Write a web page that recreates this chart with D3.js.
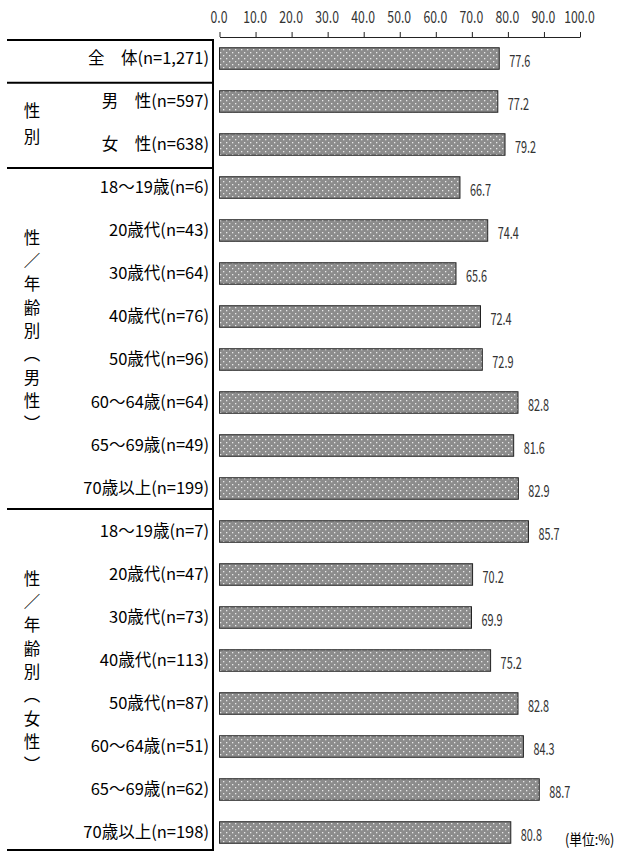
<!DOCTYPE html>
<html>
<head>
<meta charset="utf-8">
<script src="https://cdn.jsdelivr.net/npm/d3@7"></script>
<style>
  body { margin: 0; background: #fff; }
  text { font-family: "Noto Sans CJK JP", sans-serif; fill: #000; }
</style>
</head>
<body>
<script>
var labels = ["全\u3000体(n=1,271)", "男\u3000性(n=597)", "女\u3000性(n=638)",
  "18～19歳(n=6)", "20歳代(n=43)", "30歳代(n=64)", "40歳代(n=76)", "50歳代(n=96)",
  "60～64歳(n=64)", "65～69歳(n=49)", "70歳以上(n=199)",
  "18～19歳(n=7)", "20歳代(n=47)", "30歳代(n=73)", "40歳代(n=113)", "50歳代(n=87)",
  "60～64歳(n=51)", "65～69歳(n=62)", "70歳以上(n=198)"]
var values = [77.6, 77.2, 79.2, 66.7, 74.4, 65.6, 72.4, 72.9, 82.8, 81.6, 82.9,
  85.7, 70.2, 69.9, 75.2, 82.8, 84.3, 88.7, 80.8]
var ticks = [0, 10, 20, 30, 40, 50, 60, 70, 80, 90, 100]
// groups: first row, last row (exclusive), vertical label chars
var groups = [
  {from: 1, to: 3, chars: ["性", "別"]},
  {from: 3, to: 11, chars: ["性", "／", "年", "齢", "別", "︵", "男", "性", "︶"]},
  {from: 11, to: 19, chars: ["性", "／", "年", "齢", "別", "︵", "女", "性", "︶"]}
]
var dividers = [0, 1, 3, 11, 19]

var width = 629, height = 852

var svg = d3.select("body").append("svg")
    .attr("width", width)
    .attr("height", height)

var pat = svg.append("defs").append("pattern")
    .attr("id", "dots")
    .attr("patternUnits", "userSpaceOnUse")
    .attr("width", 6).attr("height", 6)
pat.append("rect").attr("width", 6).attr("height", 6).attr("fill", "#8c8c8c")
pat.append("rect").attr("x", 1).attr("y", 1).attr("width", 1.3).attr("height", 1.3).attr("fill", "#e8e8e8")
pat.append("rect").attr("x", 4).attr("y", 4).attr("width", 1.3).attr("height", 1.3).attr("fill", "#e8e8e8")

var x = d3.scaleLinear().domain([0, 100]).range([219.5, 580])
var y = d3.scaleBand().domain(d3.range(labels.length)).range([37, 854])
    .paddingInner(0.5).paddingOuter(0.25)
var row = d3.scaleLinear().domain([0, 19]).range([40, 850])

// top axis
var xAxis = d3.axisTop(x).tickValues(ticks).tickSize(5).tickSizeOuter(0)
    .tickFormat(d3.format(".1f"))
var ax = svg.append("g")
    .attr("transform", "translate(0,37)")
    .call(xAxis)
ax.select(".domain").attr("stroke", "#222")
ax.selectAll(".tick line").attr("stroke", "#222")
ax.selectAll(".tick text")
    .attr("font-size", 17).attr("y", 0).attr("dy", 0)
    .attr("transform", "translate(-1,-14) scale(0.72,1)")
    .style("fill", "#333")
    .style("font-family", "'Noto Sans CJK JP', sans-serif")

// bars
svg.selectAll("rect.bar")
    .data(values)
    .enter().append("rect")
    .attr("class", "bar")
    .attr("x", x(0))
    .attr("y", function(d, i) { return y(i); })
    .attr("width", function(d) { return x(d) - x(0); })
    .attr("height", y.bandwidth())
    .attr("fill", "url(#dots)")
    .attr("stroke", "#222")
    .attr("stroke-width", 1)

svg.selectAll("text.val")
    .data(values)
    .enter().append("text")
    .attr("class", "val")
    .attr("transform", function(d, i) {
      return "translate(" + (x(d) + 10) + "," + (y(i) + y.bandwidth() / 2 + 4) + ") scale(0.64,1)";
    })
    .attr("dominant-baseline", "middle")
    .attr("font-size", 17)
    .style("fill", "#333")
    .text(function(d) { return d3.format(".1f")(d); })

// row labels
svg.selectAll("text.lab")
    .data(labels)
    .enter().append("text")
    .attr("class", "lab")
    .attr("x", 209)
    .attr("y", function(d, i) { return y(i) + y.bandwidth() / 2 + 1; })
    .attr("text-anchor", "end")
    .attr("dominant-baseline", "middle")
    .attr("font-size", 16.5)
    .text(function(d) { return d; })

// table lines
svg.selectAll("line.div")
    .data(dividers)
    .enter().append("line")
    .attr("x1", 7).attr("x2", 214)
    .attr("y1", function(d) { return row(d); })
    .attr("y2", function(d) { return row(d); })
    .attr("stroke", "#000").attr("stroke-width", 2)
svg.append("line")
    .attr("x1", 213).attr("x2", 213)
    .attr("y1", row(0) - 1).attr("y2", row(19) + 1)
    .attr("stroke", "#000").attr("stroke-width", 2)

// vertical group labels
groups.forEach(function(g) {
  var step = g.chars.length > 2 ? 23.3 : 26
  var c = (row(g.from) + row(g.to)) / 2 - (g.chars.length > 2 ? 6 : 0)
  var y0 = c - step * (g.chars.length - 1) / 2
  svg.selectAll(null)
      .data(g.chars)
      .enter().append("text")
      .attr("x", 32)
      .attr("y", function(d, i) { return y0 + i * step; })
      .attr("text-anchor", "middle")
      .attr("dominant-baseline", "middle")
      .attr("font-size", 16.5)
      .text(function(d) { return d; })
})

svg.append("text")
    .attr("transform", "translate(565,845) scale(0.85,1)")
    .attr("font-size", 15)
    .text("(単位:%)")
</script>
</body>
</html>
